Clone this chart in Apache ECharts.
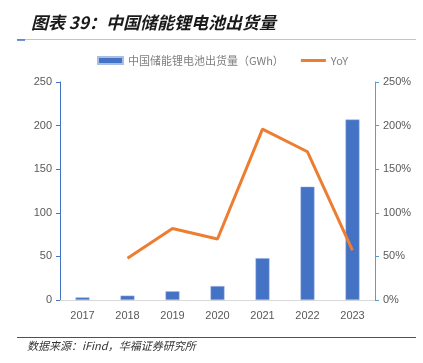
<!DOCTYPE html>
<html><head><meta charset="utf-8">
<script src="https://cdn.jsdelivr.net/npm/echarts@6/dist/echarts.min.js"></script>
<style>html,body{margin:0;padding:0;background:#fff}#c{width:423px;height:363px}</style>
</head><body><div id="c"></div>
<script>
const categories = ['2017','2018','2019','2020','2021','2022','2023'];
const shipments = [3, 5, 10, 16, 48, 130, 207];
const yoy = [null, 48, 82, 70, 196, 170, 57];
const leftTicks = [0, 50, 100, 150, 200, 250];
const rightTicks = [0, 50, 100, 150, 200, 250];

const chart = echarts.init(document.getElementById('c'));
chart.setOption({
  animation: false,
  title: {
    text: '图表 39：中国储能锂电池出货量',
    left: 26, top: 9,
    textStyle: {fontFamily: 'Noto Sans CJK SC', fontSize: 17, fontWeight: 'bold', fontStyle: 'italic', color: '#1a1a1a'}
  },
  graphic: [
    {type: 'line', shape: {x1: 17, y1: 39.5, x2: 416, y2: 39.5}, style: {stroke: '#b4c7e7', lineWidth: 1}},
    {type: 'line', shape: {x1: 17, y1: 40, x2: 25, y2: 40}, style: {stroke: '#4472c4', lineWidth: 1.5}},
    {type: 'line', shape: {x1: 17, y1: 337.5, x2: 416, y2: 337.5}, style: {stroke: '#2f5597', lineWidth: 1}},
    {type: 'text', left: 27, top: 340, style: {text: '数据来源：iFind，华福证券研究所', font: 'italic 11px "Noto Sans CJK SC"', fill: '#333'}}
  ],
  legend: {
    top: 50, left: 92, itemGap: 17, itemWidth: 25, itemHeight: 7,
    textStyle: {fontFamily: 'Noto Sans CJK SC', fontSize: 11, color: '#7f7f7f'},
    data: [
      {name: '中国储能锂电池出货量（GWh）', icon: 'rect'},
      {name: 'YoY', icon: 'path://M0 0H25V3H0Z'}
    ]
  },
  grid: {left: 60, right: 48, top: 82, bottom: 63},
  xAxis: {
    type: 'category', data: categories,
    axisLine: {lineStyle: {color: '#d9d9d9'}},
    axisTick: {show: false},
    axisLabel: {color: '#595959', fontSize: 11, fontFamily: 'Liberation Sans', margin: 10}
  },
  yAxis: [
    {
      type: 'value', min: 0, max: 250, interval: 50,
      axisLine: {show: true, lineStyle: {color: '#4472c4'}},
      axisTick: {show: true, length: 4, lineStyle: {color: '#4472c4'}},
      splitLine: {show: false},
      axisLabel: {color: '#595959', fontSize: 11, fontFamily: 'Liberation Sans', margin: 8}
    },
    {
      type: 'value', min: 0, max: 250, interval: 50, position: 'right',
      axisLine: {show: true, lineStyle: {color: '#5b9bd5'}},
      axisTick: {show: true, length: 4, lineStyle: {color: '#5b9bd5'}},
      splitLine: {show: false},
      axisLabel: {color: '#595959', fontSize: 11, fontFamily: 'Liberation Sans', margin: 8, formatter: '{value}%'}
    }
  ],
  series: [
    {
      name: '中国储能锂电池出货量（GWh）', type: 'bar', data: shipments, yAxisIndex: 0,
      barWidth: 14,
      itemStyle: {color: '#4472c4', borderColor: '#a9bde6', borderWidth: 0.5}
    },
    {
      name: 'YoY', type: 'line', data: yoy, yAxisIndex: 1,
      symbol: 'none', lineStyle: {color: '#ed7d31', width: 3},
      itemStyle: {color: '#ed7d31'}
    }
  ]
});
</script></body></html>
